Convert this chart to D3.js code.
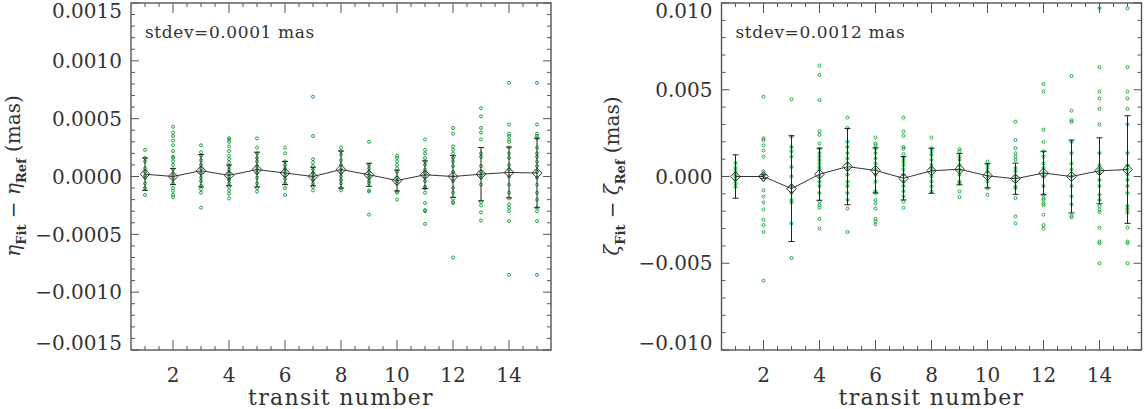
<!DOCTYPE html>
<html><head>
<meta charset="utf-8">
<script src="https://d3js.org/d3.v7.min.js"></script>
<style>
  body { margin: 0; background: #fff; }
  svg text { font-family: "DejaVu Serif", serif; fill: #333; }
</style>
</head>
<body>
<svg id="chart" width="1144" height="409"></svg>
<script>
// ---- data ----
const transits = d3.range(1, 16);

// eta residuals per transit (mas)
const etaPoints = [
  [2.3e-4, 1.6e-4, 1.3e-4, 0.7e-4, 0.4e-4, 0.1e-4, -0.1e-4, -0.6e-4, -1.0e-4, -1.6e-4],
  [4.3e-4, 3.8e-4, 3.5e-4, 3.1e-4, 2.7e-4, 2.2e-4, 1.7e-4, 1.6e-4, 1.3e-4, 1.0e-4, 0.6e-4, 0.1e-4, -0.1e-4, -0.6e-4, -1.0e-4, -1.25e-4, -1.6e-4, -1.8e-4],
  [2.7e-4, 2.1e-4, 1.8e-4, 1.4e-4, 1.0e-4, 0.7e-4, 0.3e-4, -0.1e-4, -0.4e-4, -0.8e-4, -1.1e-4, -1.4e-4, -2.7e-4],
  [3.3e-4, 3.2e-4, 3.0e-4, 2.6e-4, 2.2e-4, 1.8e-4, 1.5e-4, 1.2e-4, 0.9e-4, 0.6e-4, 0.3e-4, 0.0, -0.3e-4, -0.6e-4, -0.9e-4, -1.2e-4, -1.5e-4, -1.9e-4],
  [3.3e-4, 2.5e-4, 2.0e-4, 1.6e-4, 1.3e-4, 0.9e-4, 0.6e-4, 0.3e-4, -0.1e-4, -0.6e-4, -1.0e-4, -1.3e-4],
  [2.5e-4, 2.0e-4, 1.3e-4, 1.0e-4, 0.7e-4, 0.4e-4, 0.1e-4, -0.2e-4, -0.6e-4, -1.0e-4, -1.6e-4],
  [6.9e-4, 3.5e-4, 1.5e-4, 1.2e-4, 0.9e-4, 0.6e-4, 0.3e-4, 0.0, -0.3e-4, -0.6e-4, -0.9e-4, -1.2e-4],
  [2.5e-4, 2.2e-4, 1.9e-4, 1.4e-4, 1.0e-4, 0.6e-4, 0.3e-4, 0.0, -0.3e-4, -0.6e-4, -1.0e-4, -1.2e-4],
  [3.0e-4, 1.0e-4, 0.7e-4, 0.4e-4, 0.1e-4, -0.1e-4, -0.4e-4, -0.6e-4, -1.2e-4, -1.3e-4, -3.3e-4],
  [1.8e-4, 1.6e-4, 1.3e-4, 1.0e-4, 0.7e-4, 0.4e-4, -0.1e-4, -0.4e-4, -0.6e-4, -1.3e-4, -1.4e-4, -2.0e-4],
  [3.2e-4, 2.3e-4, 2.0e-4, 1.6e-4, 1.3e-4, 1.0e-4, 0.6e-4, 0.3e-4, 0.0, -0.4e-4, -0.9e-4, -1.0e-4, -1.4e-4, -2.3e-4, -2.9e-4, -3.0e-4, -4.1e-4],
  [4.2e-4, 3.7e-4, 2.6e-4, 2.3e-4, 2.0e-4, 1.6e-4, 1.3e-4, 0.9e-4, 0.4e-4, 0.0, -0.4e-4, -1.0e-4, -1.4e-4, -1.9e-4, -2.2e-4, -2.3e-4, -7.0e-4],
  [5.9e-4, 5.2e-4, 4.2e-4, 3.8e-4, 3.2e-4, 2.0e-4, 1.7e-4, 0.9e-4, 0.4e-4, 0.1e-4, -0.1e-4, -0.7e-4, -2.2e-4, -2.5e-4, -3.1e-4, -3.8e-4],
  [8.1e-4, 4.5e-4, 3.7e-4, 3.5e-4, 3.2e-4, 3.0e-4, 2.5e-4, 2.0e-4, 1.6e-4, 1.0e-4, 0.6e-4, 0.0, -0.7e-4, -1.4e-4, -1.9e-4, -2.4e-4, -2.7e-4, -3.0e-4, -3.85e-4, -8.5e-4],
  [8.1e-4, 4.5e-4, 3.7e-4, 3.5e-4, 3.3e-4, 2.5e-4, 2.0e-4, 1.7e-4, 1.3e-4, 0.9e-4, 0.4e-4, -0.1e-4, -0.7e-4, -1.4e-4, -2.0e-4, -2.7e-4, -3.0e-4, -3.85e-4, -8.5e-4]
];
const etaMean = [0.2e-4, 0.0, 0.5e-4, 0.1e-4, 0.6e-4, 0.3e-4, 0.0, 0.6e-4, 0.15e-4, -0.35e-4, 0.15e-4, 0.0, 0.2e-4, 0.35e-4, 0.3e-4];
const etaErr  = [1.4e-4, 0.7e-4, 1.4e-4, 0.9e-4, 1.5e-4, 1.0e-4, 0.8e-4, 1.6e-4, 1.0e-4, 0.9e-4, 1.2e-4, 1.8e-4, 2.3e-4, 2.2e-4, 3.0e-4];

// zeta residuals per transit (mas)
const zetaPoints = [
  [0.77e-3, 0.5e-3, 0.3e-3, 0.1e-3, 0.0, -0.2e-3, -0.4e-3, -0.6e-3],
  [4.6e-3, 2.2e-3, 2.1e-3, 1.8e-3, 1.5e-3, 1.15e-3, 0.3e-3, 0.1e-3, -0.2e-3, -0.8e-3, -1.15e-3, -1.5e-3, -1.9e-3, -2.5e-3, -2.8e-3, -3.2e-3, -6.0e-3],
  [4.45e-3, 2.3e-3, 1.7e-3, 1.45e-3, 1.15e-3, 0.55e-3, 0.0, -0.55e-3, -0.95e-3, -1.35e-3, -1.5e-3, -2.7e-3, -4.7e-3],
  [6.4e-3, 5.85e-3, 4.4e-3, 2.6e-3, 2.4e-3, 1.9e-3, 1.6e-3, 1.35e-3, 1.15e-3, 0.95e-3, 0.75e-3, 0.55e-3, 0.4e-3, 0.0, -0.3e-3, -0.55e-3, -0.95e-3, -1.45e-3, -1.65e-3, -1.8e-3, -2.45e-3, -3.0e-3],
  [3.4e-3, 2.8e-3, 2.0e-3, 1.7e-3, 1.35e-3, 1.05e-3, 0.75e-3, 0.4e-3, 0.1e-3, -0.3e-3, -0.55e-3, -0.95e-3, -1.35e-3, -1.85e-3, -3.2e-3],
  [2.25e-3, 1.9e-3, 1.8e-3, 1.6e-3, 1.35e-3, 1.05e-3, 0.75e-3, 0.4e-3, 0.1e-3, -0.3e-3, -0.85e-3, -0.95e-3, -1.35e-3, -1.55e-3, -1.85e-3, -2.45e-3, -2.6e-3, -2.75e-3],
  [3.4e-3, 2.6e-3, 2.35e-3, 1.7e-3, 1.6e-3, 1.3e-3, 1.05e-3, 0.85e-3, 0.65e-3, 0.4e-3, 0.1e-3, -0.3e-3, -0.55e-3, -0.85e-3, -1.15e-3, -1.45e-3, -1.8e-3],
  [2.25e-3, 1.63e-3, 1.44e-3, 1.24e-3, 0.96e-3, 0.67e-3, 0.48e-3, 0.29e-3, 0.0, -0.29e-3, -0.57e-3, -0.86e-3],
  [1.57e-3, 1.44e-3, 1.15e-3, 0.96e-3, 0.67e-3, 0.38e-3, 0.1e-3, -0.29e-3, -0.38e-3, -0.86e-3, -1.19e-3],
  [0.86e-3, 0.67e-3, 0.48e-3, 0.29e-3, 0.0, -0.29e-3, -0.67e-3, -1.05e-3],
  [3.16e-3, 2.1e-3, 1.63e-3, 1.34e-3, 1.15e-3, 0.96e-3, 0.48e-3, 0.29e-3, 0.0, -0.29e-3, -0.57e-3, -0.67e-3, -1.24e-3, -2.3e-3, -2.7e-3],
  [5.33e-3, 4.9e-3, 2.7e-3, 2.0e-3, 1.45e-3, 1.15e-3, 0.75e-3, 0.5e-3, 0.2e-3, 0.0, -0.55e-3, -1.05e-3, -1.25e-3, -1.35e-3, -1.55e-3, -1.65e-3, -2.2e-3, -2.8e-3, -3.0e-3],
  [5.8e-3, 3.8e-3, 3.25e-3, 3.15e-3, 2.0e-3, 1.35e-3, 0.75e-3, 0.4e-3, 0.0, -0.55e-3, -1.15e-3, -1.6e-3, -2.25e-3, -2.35e-3],
  [9.7e-3, 6.3e-3, 4.9e-3, 4.5e-3, 3.9e-3, 3.0e-3, 1.35e-3, 0.65e-3, 0.4e-3, 0.2e-3, -0.2e-3, -0.55e-3, -1.05e-3, -1.35e-3, -1.7e-3, -1.9e-3, -2.05e-3, -2.95e-3, -3.75e-3, -3.85e-3, -5.0e-3],
  [9.7e-3, 6.3e-3, 4.9e-3, 4.5e-3, 3.9e-3, 3.0e-3, 1.35e-3, 0.65e-3, 0.4e-3, 0.1e-3, -0.2e-3, -0.55e-3, -0.95e-3, -1.7e-3, -1.87e-3, -2.07e-3, -2.95e-3, -3.75e-3, -3.85e-3, -5.0e-3]
];
const zetaMean = [0.0, 0.0, -0.7e-3, 0.13e-3, 0.57e-3, 0.35e-3, -0.1e-3, 0.33e-3, 0.42e-3, 0.04e-3, -0.13e-3, 0.2e-3, 0.0, 0.33e-3, 0.4e-3];
const zetaErr  = [1.25e-3, 0.1e-3, 3.05e-3, 1.5e-3, 2.2e-3, 1.3e-3, 1.25e-3, 1.3e-3, 0.9e-3, 0.7e-3, 0.9e-3, 1.25e-3, 2.1e-3, 1.9e-3, 3.1e-3];

const xMajor = [2, 4, 6, 8, 10, 12, 14];
const etaTicks = [-0.0015, -0.0010, -0.0005, 0.0000, 0.0005, 0.0010, 0.0015];
const zetaTicks = [-0.010, -0.005, 0.000, 0.005, 0.010];

const svg = d3.select("#chart");
const green = "#22a444";
const axisColor = "#555";

function drawPanel(opt) {
  const g = svg.append("g");
  const x = d3.scaleLinear().domain([0.5, 15.5]).range([opt.left, opt.left + 420]);
  const y = d3.scaleLinear().domain(opt.domain).range([350, 3]);

  // frame
  g.append("rect")
    .attr("x", x.range()[0]).attr("y", 3)
    .attr("width", 420).attr("height", 347)
    .attr("fill", "none").attr("stroke", axisColor).attr("stroke-width", 1.4);

  // x ticks (bottom + top mirror)
  const xMinor = d3.range(1, 15.01, 0.5);
  xMinor.forEach(v => {
    const len = xMajor.includes(v) ? 10 : 4;
    g.append("line").attr("x1", x(v)).attr("x2", x(v)).attr("y1", 350).attr("y2", 350 - len)
      .attr("stroke", axisColor).attr("stroke-width", 1);
    g.append("line").attr("x1", x(v)).attr("x2", x(v)).attr("y1", 3).attr("y2", 3 + len)
      .attr("stroke", axisColor).attr("stroke-width", 1);
  });
  g.selectAll("text.xl").data(xMajor).join("text")
    .attr("class", "xl")
    .attr("x", d => x(d)).attr("y", 382)
    .attr("text-anchor", "middle").attr("font-size", 20)
    .text(d => d);

  // y ticks (left + right mirror)
  const yMinor = d3.range(opt.domain[0], opt.domain[1] + opt.minor / 2, opt.minor);
  yMinor.forEach(v => {
    const isMajor = opt.ticks.some(t => Math.abs(t - v) < opt.minor / 10);
    const len = isMajor ? 8 : 4;
    g.append("line").attr("x1", x.range()[0]).attr("x2", x.range()[0] + len)
      .attr("y1", y(v)).attr("y2", y(v)).attr("stroke", axisColor).attr("stroke-width", 1);
    g.append("line").attr("x1", x.range()[1]).attr("x2", x.range()[1] - len)
      .attr("y1", y(v)).attr("y2", y(v)).attr("stroke", axisColor).attr("stroke-width", 1);
  });
  g.selectAll("text.yl").data(opt.ticks).join("text")
    .attr("class", "yl")
    .attr("x", x.range()[0] - 9)
    .attr("y", d => Math.min(Math.max(y(d), 11), 343))
    .attr("dy", "0.36em")
    .attr("text-anchor", "end").attr("font-size", 20)
    .text(d => (d < 0 ? "\u2212" : "") + Math.abs(d).toFixed(opt.digits));

  // green scatter points
  opt.points.forEach((col, i) => {
    g.selectAll(null).data(col).join("circle")
      .attr("cx", x(transits[i])).attr("cy", d => y(d)).attr("r", 1.5)
      .attr("fill", "none").attr("stroke", green).attr("stroke-width", 1);
  });

  // error bars
  transits.forEach((t, i) => {
    const y0 = y(opt.mean[i] - opt.err[i]), y1 = y(opt.mean[i] + opt.err[i]);
    g.append("line").attr("x1", x(t)).attr("x2", x(t)).attr("y1", y0).attr("y2", y1)
      .attr("stroke", "#222").attr("stroke-width", 1);
    [y0, y1].forEach(yy => g.append("line")
      .attr("x1", x(t) - 3).attr("x2", x(t) + 3).attr("y1", yy).attr("y2", yy)
      .attr("stroke", "#222").attr("stroke-width", 1));
  });

  // mean line and diamonds
  g.append("path")
    .datum(transits)
    .attr("d", d3.line().x(d => x(d)).y((d, i) => y(opt.mean[i])))
    .attr("fill", "none").attr("stroke", "#333").attr("stroke-width", 1);
  g.selectAll("path.dia").data(transits).join("path")
    .attr("class", "dia")
    .attr("d", d3.symbol(d3.symbolDiamond2, 60))
    .attr("transform", (d, i) => `translate(${x(d)},${y(opt.mean[i])})`)
    .attr("fill", "none").attr("stroke", "#333").attr("stroke-width", 1);

  // stdev label
  g.append("text").attr("x", x.range()[0] + 14).attr("y", 38)
    .attr("font-size", 17).attr("letter-spacing", 0.6).text(opt.stdev);

  // x title
  g.append("text").attr("x", (x.range()[0] + x.range()[1]) / 2).attr("y", 405)
    .attr("text-anchor", "middle").attr("font-size", 22).attr("letter-spacing", 1.3)
    .text("transit number");

  // y title
  const yt = g.append("text")
    .attr("transform", `translate(${opt.titleX},176) rotate(-90)`)
    .attr("text-anchor", "middle").attr("font-size", 20);
  yt.append("tspan").attr("font-style", "italic").text(opt.sym);
  yt.append("tspan").attr("font-size", 13).attr("font-weight", "bold").attr("dy", 6).text("Fit");
  yt.append("tspan").attr("dy", -6).text(" \u2212 ");
  yt.append("tspan").attr("font-style", "italic").text(opt.sym);
  yt.append("tspan").attr("font-size", 13).attr("font-weight", "bold").attr("dy", 6).text("Ref");
  yt.append("tspan").attr("dy", -6).text("  (mas)");
}

drawPanel({
  left: 131, domain: [-0.0015, 0.0015], ticks: etaTicks, minor: 0.0001, digits: 4,
  points: etaPoints, mean: etaMean, err: etaErr,
  stdev: "stdev=0.0001 mas", sym: "\u03b7", titleX: 20
});
drawPanel({
  left: 721.5, domain: [-0.010, 0.010], ticks: zetaTicks, minor: 0.001, digits: 3,
  points: zetaPoints, mean: zetaMean, err: zetaErr,
  stdev: "stdev=0.0012 mas", sym: "\u03b6", titleX: 619
});
</script>
</body>
</html>
